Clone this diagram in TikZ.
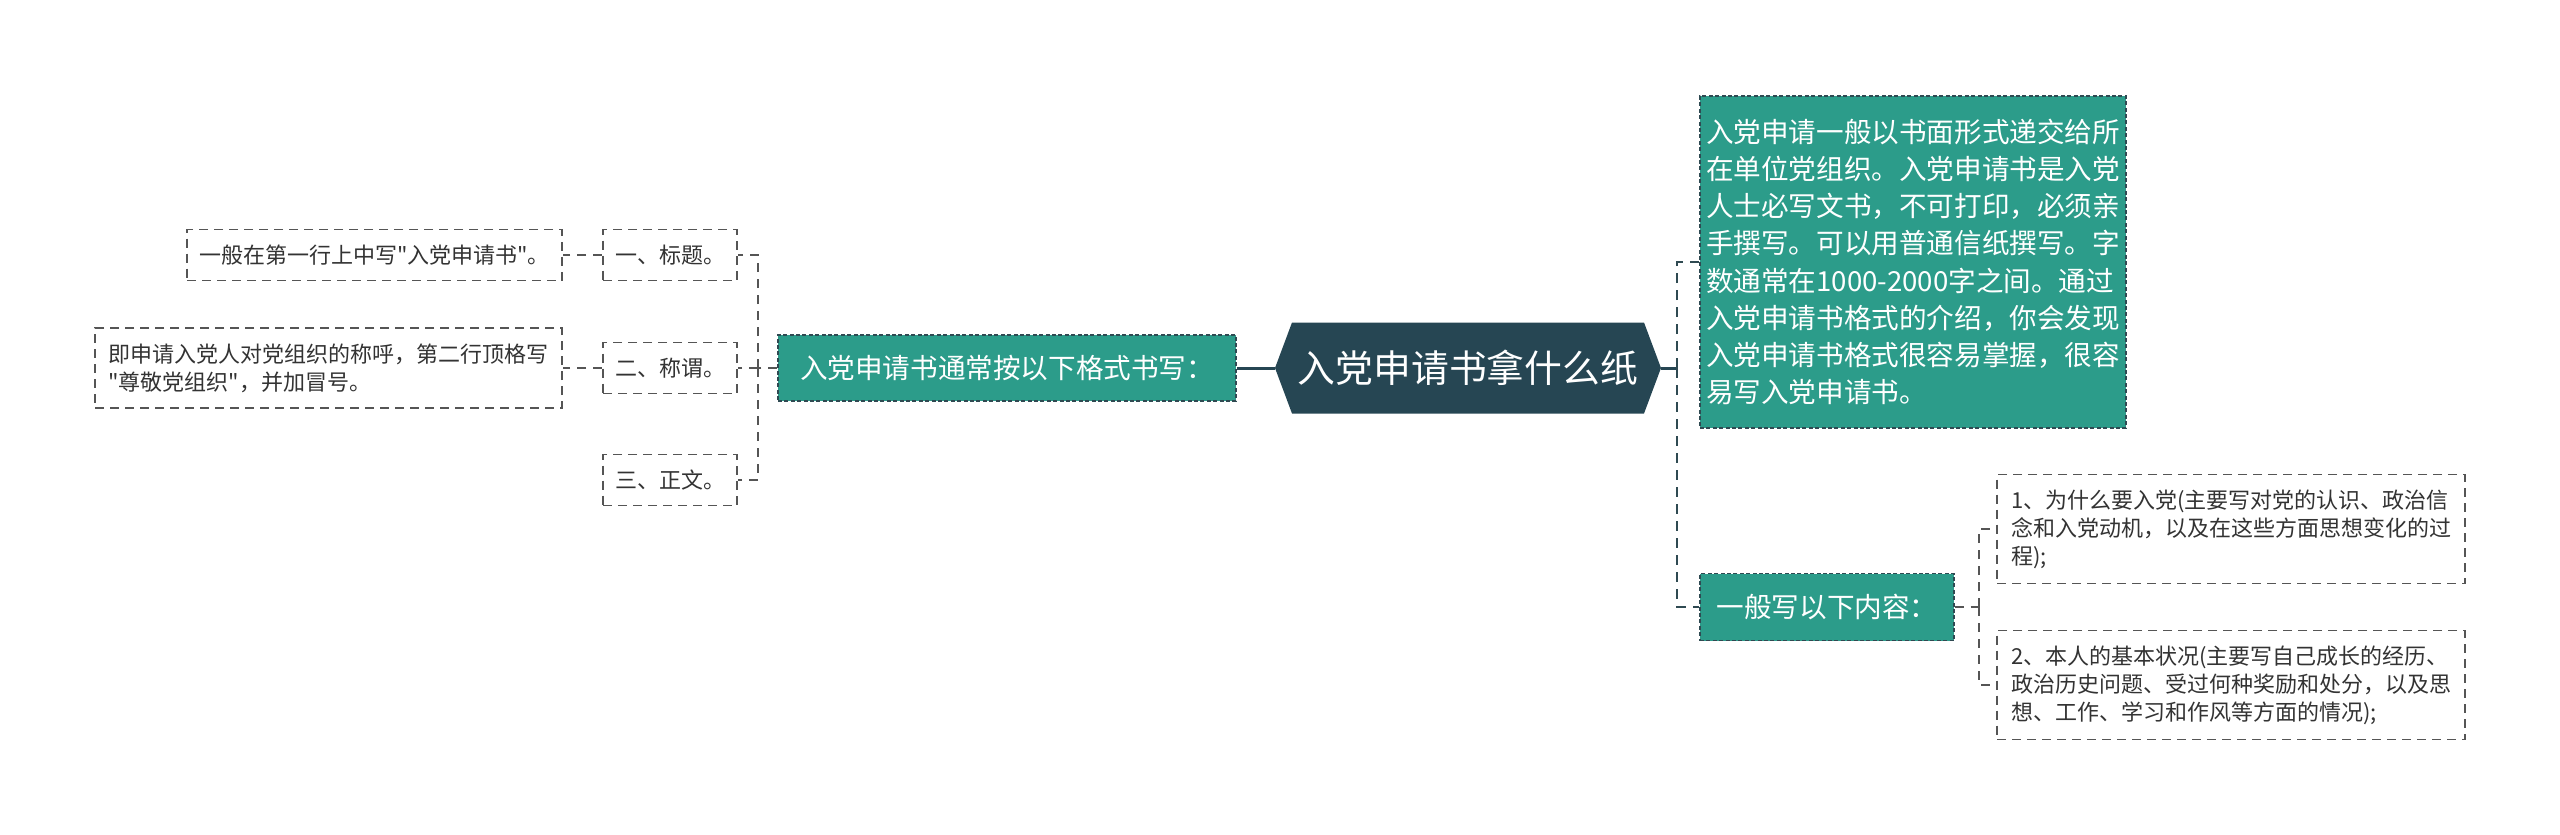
\documentclass[tikz,border=0pt]{standalone}
\usepackage{fontspec}
\setmainfont{Noto Sans CJK SC}[Ligatures=TeXOff]
\definecolor{mapteal}{HTML}{2C9C8A}
\definecolor{mapdark}{HTML}{264653}
\definecolor{mapedge}{HTML}{2F4A52}
\definecolor{leafedge}{HTML}{555555}
\definecolor{leaftext}{HTML}{333333}
\tikzset{
  rootnode/.style={minimum width=193pt, minimum height=45.5pt, inner sep=0pt,
    text=white, font=\fontsize{18.9}{22}\selectfont,
    path picture={\fill[mapdark] (path picture bounding box.west)
      -- ([xshift=8.5pt]path picture bounding box.north west)
      -- ([xshift=-8.5pt]path picture bounding box.north east)
      -- (path picture bounding box.east)
      -- ([xshift=-8.5pt]path picture bounding box.south east)
      -- ([xshift=8.5pt]path picture bounding box.south west) -- cycle;}},
  topicnode/.style={fill=mapteal, draw=mapedge, dash pattern=on 2pt off 1.2pt,
    line width=0.6pt, text=white, inner sep=0pt, align=left,
    font=\fontsize{13.8}{18.6}\selectfont},
  leafnode/.style={fill=white, draw=leafedge, dash pattern=on 4.5pt off 3pt,
    line width=0.8pt, text=leaftext, inner sep=0pt, align=left,
    font=\fontsize{11}{14}\selectfont},
  headbox/.style={leafnode, minimum width=67pt, minimum height=25.5pt},
  pointbox/.style={leafnode, minimum width=234pt, minimum height=54.5pt},
  rootlink/.style={draw=mapdark, line width=1.5pt},
  trunk/.style={draw=mapedge, line width=1.1pt, dash pattern=on 5pt off 3.5pt},
  link/.style={draw=leafedge, line width=0.9pt, dash pattern=on 4.5pt off 3.5pt}
}
\begin{document}
\begin{tikzpicture}[x=0.5pt, y=-0.5pt]
\useasboundingbox (0,0) rectangle (2560,835);
% centre
\node[rootnode] (root) at (1468,368) {入党申请书拿什么纸};
% left branch
\node[topicnode, minimum width=229pt, minimum height=33pt] (format) at (1007,368)
  {入党申请书通常按以下格式书写：};
\node[headbox] (title) at (670,255) {一、标题。};
\node[headbox] (salute) at (670,368) {二、称谓。};
\node[headbox] (body) at (670,480) {三、正文。};
\node[leafnode, minimum width=187.5pt, minimum height=25.5pt] (titlenote) at (374.5,255)
  {一般在第一行上中写"入党申请书"。};
\node[leafnode, minimum width=233.5pt, minimum height=40pt] (salutenote) at (328.5,368)
  {即申请入党人对党组织的称呼，第二行顶格写\\"尊敬党组织"，并加冒号。};
% right branch
\node[topicnode, minimum width=213pt, minimum height=166pt] (paper) at (1913,262)
  {入党申请一般以书面形式递交给所\\在单位党组织。入党申请书是入党\\人士必写文书，不可打印，必须亲\\手撰写。可以用普通信纸撰写。字\\数通常在1000-2000字之间。通过\\入党申请书格式的介绍，你会发现\\入党申请书格式很容易掌握，很容\\易写入党申请书。};
\node[topicnode, minimum width=127pt, minimum height=33.5pt] (content) at (1827,607)
  {一般写以下内容：};
\node[pointbox] (why) at (2231,529)
  {1、为什么要入党(主要写对党的认识、政治信\\念和入党动机，以及在这些方面思想变化的过\\程);};
\node[pointbox] (self) at (2231,685)
  {2、本人的基本状况(主要写自己成长的经历、\\政治历史问题、受过何种奖励和处分，以及思\\想、工作、学习和作风等方面的情况);};
% forks
\coordinate (lfork) at (758,368);
\coordinate (rfork) at (1677,368);
\coordinate (cfork) at (1979,607);
% connectors
\draw[rootlink] (root.west) -- (format.east);
\draw[rootlink] (root.east) -- (rfork);
\draw[link] (format.west) -- (lfork);
\draw[link] (lfork) |- (title.east);
\draw[link] (lfork) -- (salute.east);
\draw[link] (lfork) |- (body.east);
\draw[link] (title.west) -- (titlenote.east);
\draw[link] (salute.west) -- (salutenote.east);
\draw[trunk] (rfork) |- (paper.west);
\draw[trunk] (rfork) |- (content.west);
\draw[link] (content.east) -- (cfork);
\draw[link] (cfork) |- (why.west);
\draw[link] (cfork) |- (self.west);
\end{tikzpicture}
\end{document}
